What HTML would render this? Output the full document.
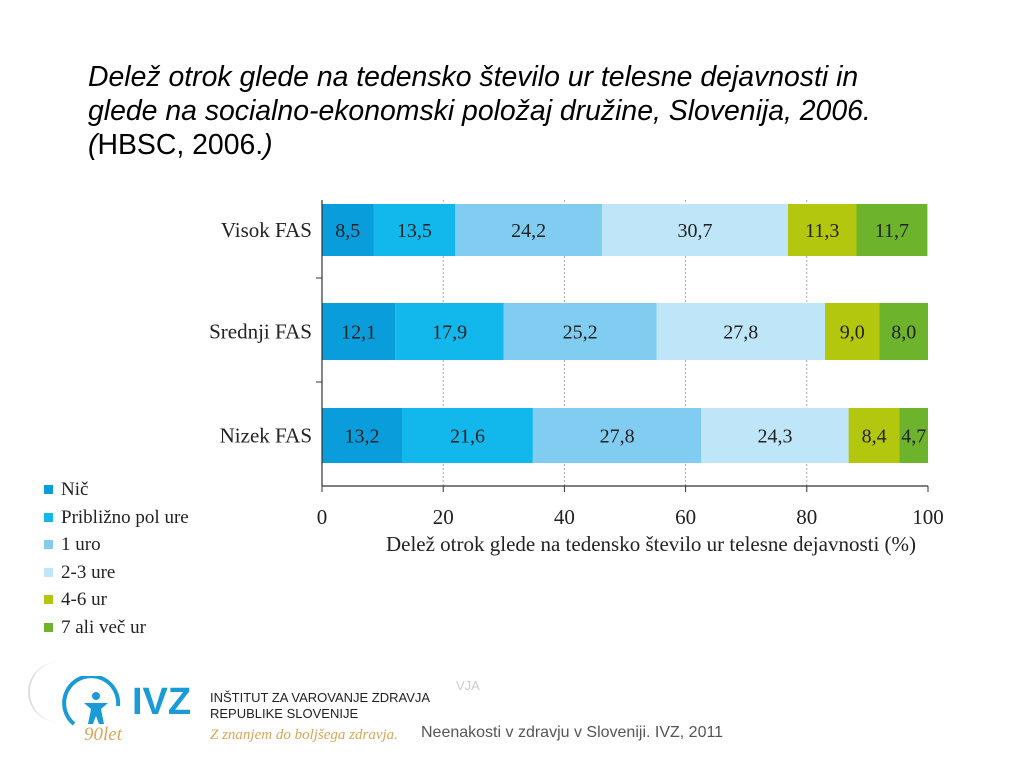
<!DOCTYPE html>
<html><head><meta charset="utf-8"><style>
body{margin:0;width:1024px;height:768px;background:#fff;overflow:hidden;position:relative;font-family:"Liberation Serif",serif}
.t{position:absolute;left:88px;top:60px;font-family:"Liberation Sans",sans-serif;font-size:28.4px;line-height:34px;color:#000;white-space:nowrap}
.leg{position:absolute;left:44px;font-size:19px;color:#222}
.leg span{display:inline-block;width:9px;height:9px;margin-right:8px;vertical-align:1px}
</style></head><body>
<div class="t"><i>Delež otrok glede na tedensko število ur telesne dejavnosti in<br>glede na socialno-ekonomski položaj družine, Slovenija, 2006.<br>(</i>HBSC, 2006.<i>)</i></div>
<svg id="c" width="1024" height="768" style="position:absolute;left:0;top:0"></svg>
<div id="legend"></div>
<div style="position:absolute;left:28px;top:662px;width:30px;height:60px;border-left:2px solid #ddd;border-radius:30px 0 0 30px"></div>
<svg style="position:absolute;left:62px;top:676px" width="70" height="60"><path d="M12 48 A27 27 0 1 1 56 30" stroke="#1a9bd7" stroke-width="4" fill="none"/><circle cx="34" cy="20" r="4" fill="#1a9bd7"/><path d="M22 27 L46 27 L39 33 L42 48 L37 48 L34 40 L31 48 L26 48 L29 33Z" fill="#1a9bd7"/></svg>
<div style="position:absolute;left:132px;top:681px;font-family:'Liberation Sans',sans-serif;font-weight:bold;font-size:38px;color:#1a9bd7">IVZ</div>
<div style="position:absolute;left:84px;top:724px;font-style:italic;font-size:19px;color:#d9a55a">90let</div>
<div style="position:absolute;left:210px;top:690px;font-family:'Liberation Sans',sans-serif;font-size:13px;line-height:16px;color:#222">INŠTITUT ZA VAROVANJE ZDRAVJA<br>REPUBLIKE SLOVENIJE</div>
<div style="position:absolute;left:456px;top:678px;font-family:'Liberation Sans',sans-serif;font-size:13px;color:#ccc">VJA</div>
<div style="position:absolute;left:210px;top:727px;font-style:italic;font-size:15px;color:#d9a55a">Z znanjem do boljšega zdravja.</div>
<div style="position:absolute;left:421px;top:724px;font-family:'Liberation Sans',sans-serif;font-size:16px;color:#555">Neenakosti v zdravju v Sloveniji. IVZ, 2011</div>
<script>
const categories=["Visok FAS","Srednji FAS","Nizek FAS"];
const seriesNames=["Nič","Približno pol ure","1 uro","2-3 ure","4-6 ur","7 ali več ur"];
const s0=[8.5,12.1,13.2];
const s1=[13.5,17.9,21.6];
const s2=[24.2,25.2,27.8];
const s3=[30.7,27.8,24.3];
const s4=[11.3,9.0,8.4];
const s5=[11.7,8.0,4.7];
const ticks=[0,20,40,60,80,100];
const series=[s0,s1,s2,s3,s4,s5];
const colors=["#0a9ddb","#12b8ec","#80cdf1","#bfe5f8","#b3c70f","#6db32c"];
const svg=document.getElementById('c');const NS="http://www.w3.org/2000/svg";
const x=v=>322+v*6.06;
const bandTop=[204,303,408],bandH=[52,57,55];
function el(t,a,p){const e=document.createElementNS(NS,t);for(const k in a)e.setAttribute(k,a[k]);(p||svg).appendChild(e);return e;}
ticks.forEach((t,i)=>{if(t>0&&t<100){const g=el('line',{x1:x(t),x2:x(t),y1:200,y2:486,stroke:'#999','stroke-width':0.8,'stroke-dasharray':'2,2'});}
const tk=el('line',{x1:x(t),x2:x(t),y1:486,y2:492,stroke:'#333'});
const l=el('text',{x:x(t),y:524,'text-anchor':'middle','font-size':21,fill:'#222'});l.textContent=t;});
categories.forEach((c,i)=>{let acc=0;const y=bandTop[i],h=bandH[i];
series.forEach((s,j)=>{const v=s[i];const r=el('rect',{x:x(acc),y:y,width:x(acc+v)-x(acc),height:h,fill:colors[j]});
const tx=el('text',{x:(x(acc)+x(acc+v))/2,y:y+h/2+7,'text-anchor':'middle','font-size':20,fill:'#222'});tx.textContent=v.toFixed(1).replace('.',',');acc+=v;});
const lb=el('text',{x:312,y:y+h/2+7,'text-anchor':'end','font-size':21,fill:'#222'});lb.textContent=c;});
[278,382].forEach(yy=>{const t=el('line',{x1:316,x2:322,y1:yy,y2:yy,stroke:'#333'});});
const ax=el('line',{x1:322,x2:928,y1:486,y2:486,stroke:'#333','stroke-width':1.2});
const ay=el('line',{x1:322,x2:322,y1:200,y2:486,stroke:'#333','stroke-width':1.2});
const xt=el('text',{x:651,y:551,'text-anchor':'middle','font-size':21,fill:'#222'});xt.textContent="Delež otrok glede na tedensko število ur telesne dejavnosti (%)";
const lg=document.getElementById('legend');
seriesNames.forEach((n,j)=>{const d=document.createElement('div');d.className='leg';d.style.top=(479+j*27.6)+'px';d.innerHTML='<span style="background:'+colors[j]+'"></span>'+n;


lg.appendChild(d);});
</script>
</body></html>
